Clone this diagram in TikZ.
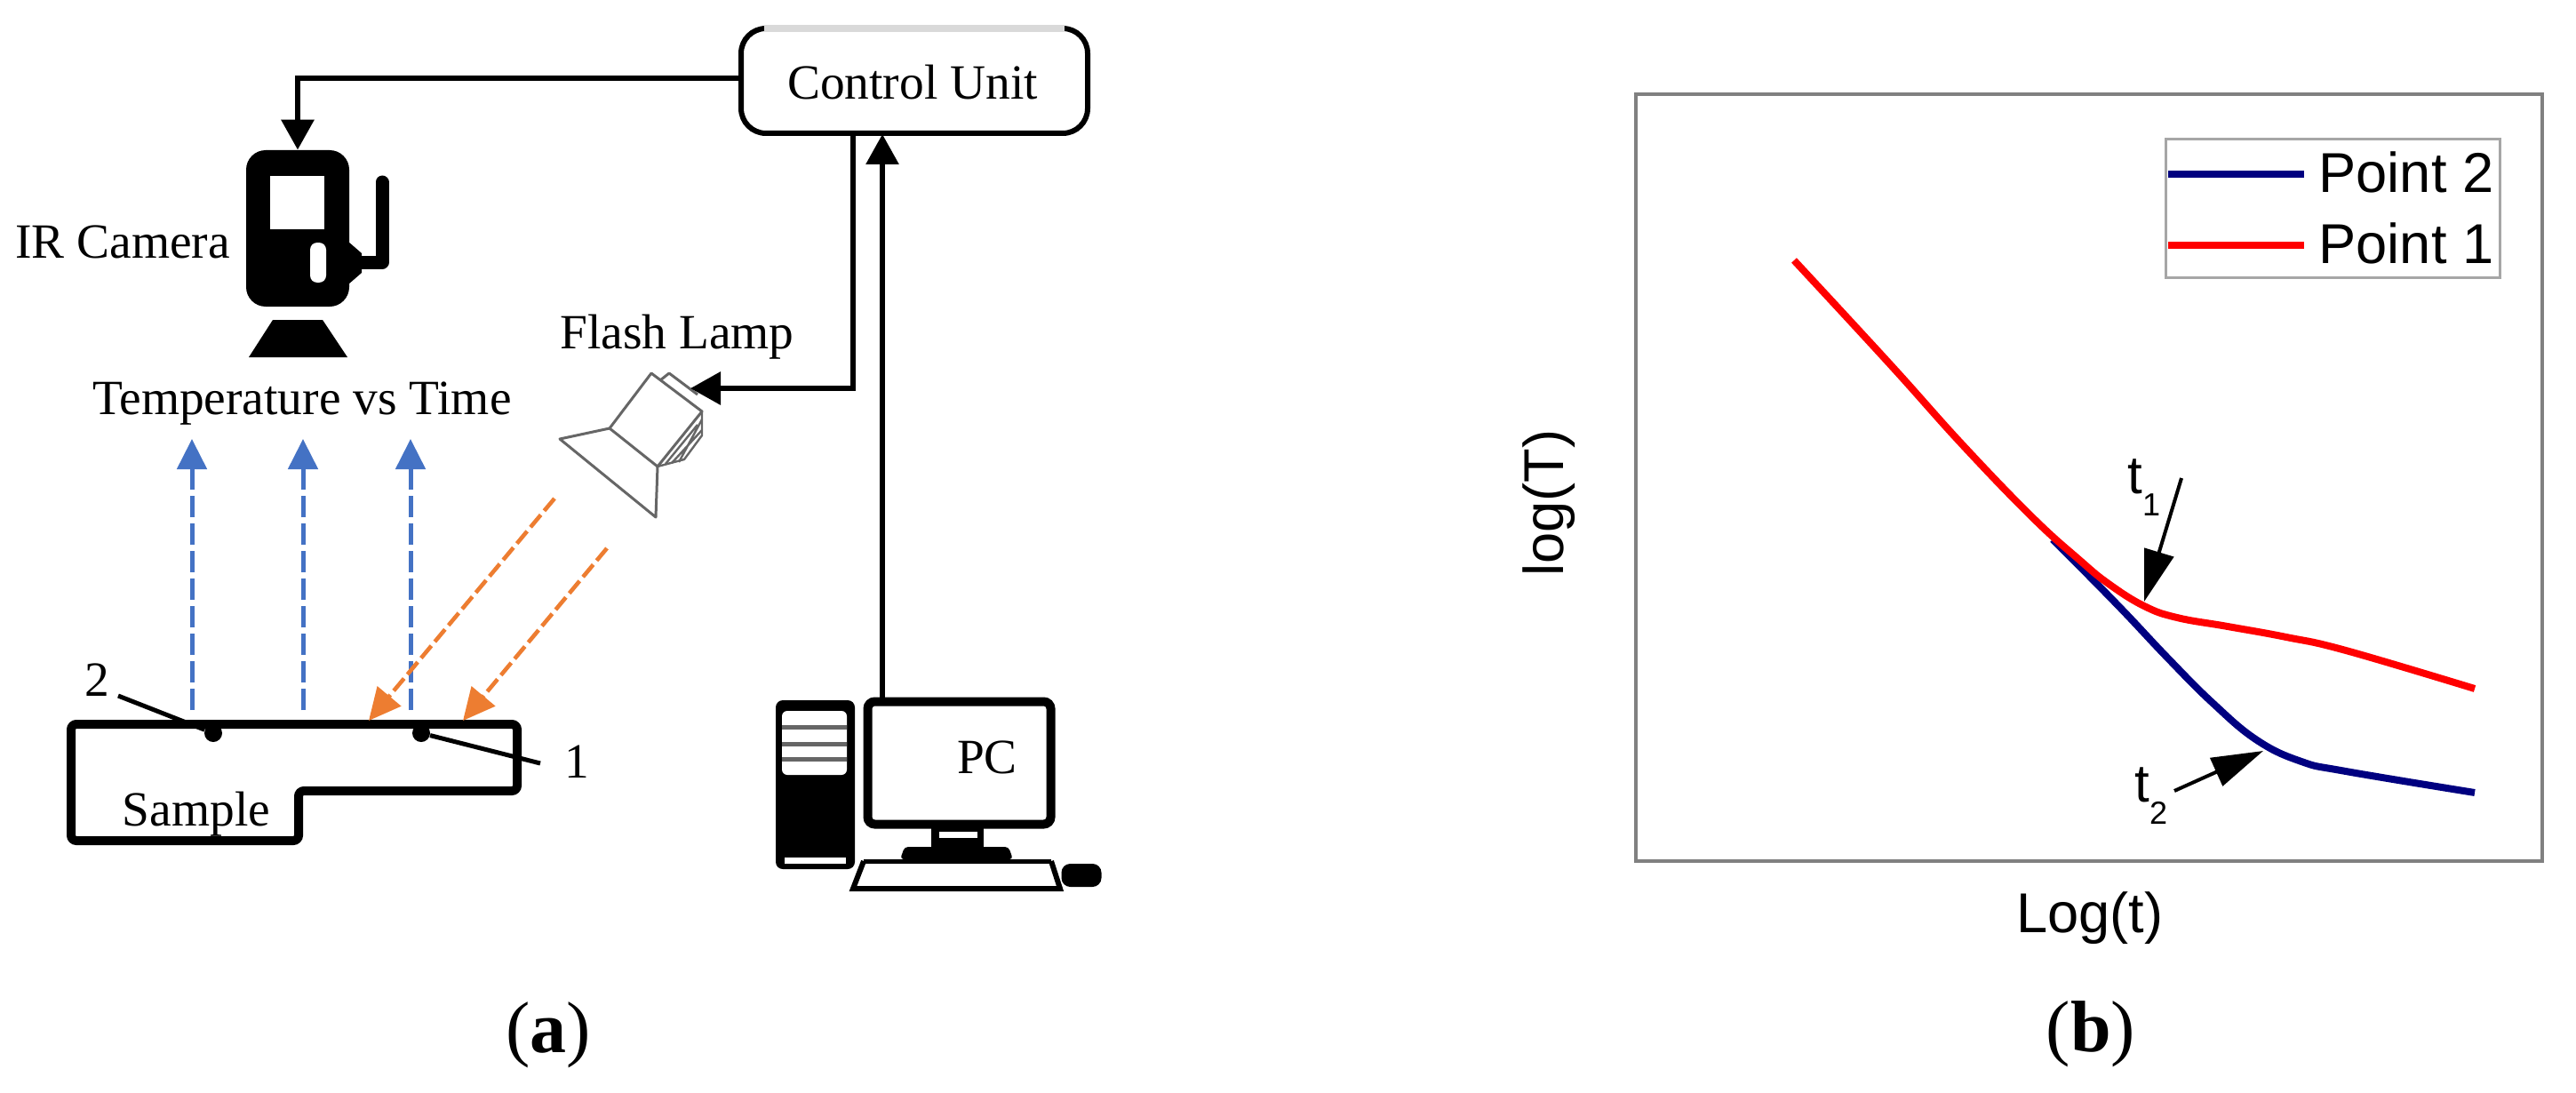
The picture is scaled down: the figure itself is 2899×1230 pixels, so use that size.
\documentclass[tikz,border=0pt]{standalone}
\usepackage{fontspec}
\setmainfont{Liberation Serif}
\setsansfont{Liberation Sans}
\usetikzlibrary{arrows.meta}
\definecolor{rayblue}{HTML}{4472C4}
\definecolor{rayorange}{HTML}{ED7D31}
\definecolor{curveblue}{HTML}{000080}
\definecolor{curvered}{HTML}{FF0000}
\newcommand{\tsub}[1]{t\raisebox{-12.5pt}{\fontsize{18}{18}\selectfont #1}}
\tikzset{
  lbl/.style={inner sep=0, anchor=base, font=\fontsize{27.7}{30}\selectfont},
  plotlbl/.style={inner sep=0, anchor=base, font=\sffamily\fontsize{31.6}{34}\selectfont},
  caption/.style={inner sep=0, anchor=base, font=\fontsize{41}{44}\selectfont},
  link/.style={line width=3.2pt, -{Triangle[length=17pt, width=18pt]}},
  blueray/.style={rayblue, line width=2.5pt, dash pattern=on 12pt off 3.5pt, -{Triangle[length=17pt, width=16.5pt]}},
  orangeray/.style={rayorange, line width=2.3pt, dash pattern=on 9pt off 3pt, -{Triangle[length=18pt, width=17pt]}},
  tmark/.style={line width=2pt, -{Triangle[length=29pt, width=17pt]}},
  lampline/.style={black!60, line width=1.5pt}
}
\begin{document}
\begin{tikzpicture}[x=0.5pt, y=-0.5pt]
\useasboundingbox (0,0) rectangle (2899,1230);

% control unit
\node (unit) [draw, rounded corners=14pt, line width=3pt, minimum width=195pt, minimum height=59pt, inner sep=0] at (1029,91) {};
\draw[black!15, line width=4pt] (860,32) -- (1198,32);
\node (unitlbl) [lbl] at (1027,112) {Control Unit};
\coordinate (unitout) at (960,150);
\coordinate (unitin) at (993,151);

% camera
\node (camera) [fill=black, rounded corners=11pt, minimum width=58pt, minimum height=88pt, inner sep=0] at (335,257) {};
\fill[white] (304,198) rectangle (365,258);
\fill[white, rounded corners=4pt] (349,273) rectangle (367,318);
\fill (392,272) -- (407,285) -- (407,307) -- (392,320) -- cycle;
\draw[line width=7.5pt, line join=round, line cap=round] (407,295) -- (430,295) -- (430,205);
\fill (307,360) -- (363,360) -- (391,402) -- (280,402) -- cycle;
\node (cameralbl) [lbl] at (138,290) {IR Camera};
\node (tvt) [lbl] at (340,466) {Temperature vs Time};

% lamp
\coordinate (lampin) at (777,437);
\draw[lampline, line join=round] (733,420) -- (790,463) -- (740,525) -- (686,482) -- cycle;
\draw[lampline, line join=round] (686,482) -- (630,494) -- (738,582) -- (740,525);
\draw[lampline, line join=round] (743,428) -- (753,420) -- (785,444);
\draw[lampline, line width=1.2pt, line join=round] (790,463) -- (790,490) -- (770,517) -- (740,525);
\draw[lampline, line width=1.2pt] (785,478) -- (749,522) (790,484) -- (756,521) (790,472) -- (764,520);
\node (lamplbl) [lbl] at (762,392) {Flash Lamp};

% sample
\draw[line width=5pt, rounded corners=3pt] (80,815) -- (582,815) -- (582,890) -- (336,890) -- (336,946) -- (80,946) -- cycle;
\node (samplelbl) [lbl] at (221,929) {Sample};
\node (ptb) [circle, fill=black, minimum size=10pt, inner sep=0] at (240,825) {};
\node (pta) [circle, fill=black, minimum size=10pt, inner sep=0] at (474,825) {};
\coordinate (ptbend) at (133,783);
\coordinate (ptaend) at (608,859);
\draw[line width=2.5pt] (ptbend) -- (ptb);
\draw[line width=2.5pt] (pta) -- (ptaend);
\node (ptblbl) [lbl] at (109,783) {2};
\node (ptalbl) [lbl] at (649,875) {1};

% rays
\foreach \rx in {216,341,462}
  \draw[blueray] (\rx,799) -- (\rx,494);
\coordinate (hita) at (415,811);
\coordinate (hitb) at (521,811);
\coordinate (lampa) at (624,561);
\coordinate (lampb) at (683,617);
\draw[orangeray] (lampa) -- (hita);
\draw[orangeray] (lampb) -- (hitb);

% pc
\node (tower) [fill=black, rounded corners=4pt, minimum width=44.5pt, minimum height=95pt, inner sep=0] at (917.5,883) {};
\fill[white, rounded corners=3pt] (880,800) rectangle (953,872);
\foreach \sy in {818,837,854}
  \fill[black!60] (880,\sy-2.5) rectangle (953,\sy+2.5);
\fill[white] (883,965) rectangle (952,972);
\node (monitor) [draw, line width=5pt, rounded corners=4pt, minimum width=103pt, minimum height=69pt, inner sep=0] at (1079.5,858.5) {};
\fill (1048,932) rectangle (1107,955);
\fill[white] (1057,936) rectangle (1100,943);
\fill[rounded corners=2pt] (1013,967) -- (1018,953) -- (1135,953) -- (1140,967) -- cycle;
\draw[line width=2.5pt, line join=miter] (972,969) -- (1183,969);
\draw[line width=3pt, line join=miter] (972,969) -- (960,1000) -- (1193,1000) -- (1183,969);
\node (mouse) [fill=black, rounded corners=5pt, minimum width=22.5pt, minimum height=13pt, inner sep=0] at (1217,985) {};
\node (pclbl) [lbl] at (1111,870) {PC};

% links
\draw[link] (unit.west |- 0,88) -| (camera.north);
\draw[link] (unitout) |- (lampin);
\draw[link, line width=3pt] (monitor.north -| unitin) -- (unitin);

% plot
\node (frame) [draw=black!50, line width=2pt, minimum width=510pt, minimum height=431.5pt, inner sep=0] at (2351,537.5) {};
\draw[curveblue, line width=4pt] plot[smooth, tension=0.7] coordinates {(2310,607) (2340,637) (2390,688) (2440,741) (2490,791) (2540,833) (2590,857) (2640,868) (2785,892)};
\draw[curvered, line width=4pt] plot[smooth, tension=0.7] coordinates {(2019,293) (2128,411) (2208,500) (2287,582) (2340,630) (2373,657) (2413,682) (2450,695) (2507,705) (2573,717) (2640,732) (2785,775)};

% legend
\node (legend) [draw=black!35, line width=1.5pt, minimum width=188pt, minimum height=77.5pt, inner sep=0] at (2625,234.5) {};
\draw[curveblue, line width=4pt] (2440,196) -- (2593,196);
\draw[curvered, line width=4pt] (2440,276) -- (2593,276);
\node (legb) [plotlbl] at (2708,217) {Point 2};
\node (lega) [plotlbl] at (2708,296) {Point 1};

% arrows in plot
\node (tonelbl) [plotlbl, font=\sffamily\fontsize{30}{32}\selectfont, anchor=base west] at (2394,555) {\tsub{1}};
\node (ttwolbl) [plotlbl, font=\sffamily\fontsize{30}{32}\selectfont, anchor=base west] at (2402,902) {\tsub{2}};
\coordinate (tonestart) at (2455,538);
\coordinate (tonetip) at (2413,677);
\coordinate (ttwostart) at (2447,890);
\coordinate (ttwotip) at (2547,845);
\draw[tmark] (tonestart) -- (tonetip);
\draw[tmark] (ttwostart) -- (ttwotip);

\node (ylbl) [plotlbl, anchor=center, rotate=90] at (1743,566) {log(T)};
\node (xlbl) [plotlbl] at (2352,1049) {Log(t)};

% captions
\node (capa) [caption] at (617,1184) {(\textbf{a})};
\node (capb) [caption] at (2353,1183) {(\textbf{b})};
\end{tikzpicture}
\end{document}
